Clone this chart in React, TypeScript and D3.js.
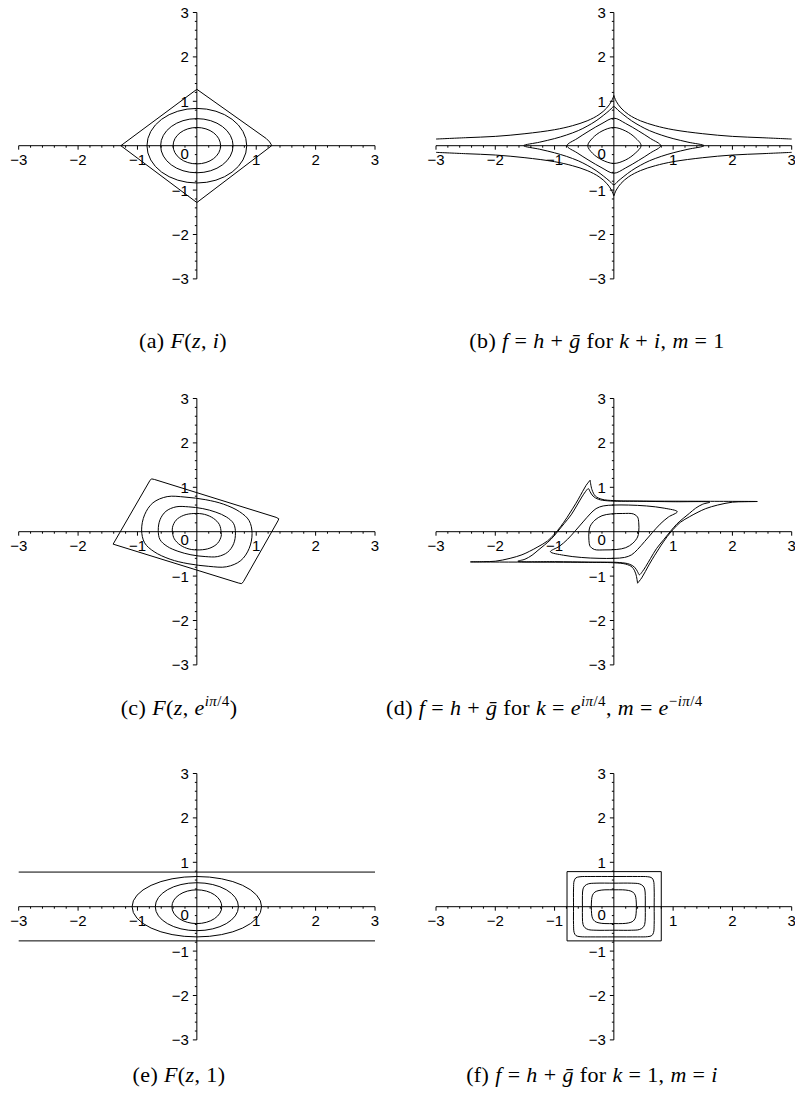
import React from 'react';
import * as d3 from 'd3';

type P = [number, number];

// ---------- axis data ----------
const DOMAIN: [number, number] = [-3, 3];
const MAJOR = [-3, -2, -1, 1, 2, 3];
const MAJOR_LABELS = ['−3', '−2', '−1', '1', '2', '3'];
const ORIGIN_LABEL = '0';
const MINOR_STEP = 0.2;

// ---------- (a) F(z,i) ----------
const A_DIAMOND: P[] = [[0, 1.27], [1.17, 0.16], [1.225, 0.085], [1.255, 0.02], [1.26, 0], [0, -1.28], [-1.28, 0]];
const A_OVALS: P[] = [[0.84, 0.84], [0.61, 0.61], [0.4, 0.41]];

// ---------- (b) k+i, m=1 ----------
const B1: P[] = [[0.46, 0], [0.36, 0.18], [0.2, 0.33], [0, 0.41], [-0.2, 0.33], [-0.36, 0.17], [-0.44, 0], [-0.36, -0.17], [-0.2, -0.32], [0, -0.4], [0.2, -0.32], [0.36, -0.17]];
const B2: P[] = [[0.79, 0], [0.62, 0.16], [0.42, 0.33], [0.2, 0.5], [0, 0.62], [-0.2, 0.5], [-0.42, 0.33], [-0.62, 0.16], [-0.79, 0], [-0.62, -0.16], [-0.42, -0.33], [-0.2, -0.5], [0, -0.62], [0.2, -0.5], [0.42, -0.33], [0.62, -0.16]];
const B3: P[] = [[1.52, 0], [1.25, 0.08], [1.0, 0.16], [0.8, 0.24], [0.6, 0.34], [0.45, 0.44], [0.3, 0.56], [0.17, 0.69], [0.07, 0.8], [0, 0.88], [-0.07, 0.8], [-0.17, 0.69], [-0.3, 0.56], [-0.45, 0.44], [-0.6, 0.34], [-0.8, 0.24], [-1.0, 0.16], [-1.25, 0.08], [-1.52, 0], [-1.25, -0.08], [-1.0, -0.16], [-0.8, -0.24], [-0.6, -0.34], [-0.45, -0.44], [-0.3, -0.56], [-0.17, -0.69], [-0.07, -0.8], [0, -0.88], [0.07, -0.8], [0.17, -0.69], [0.3, -0.56], [0.45, -0.44], [0.6, -0.34], [0.8, -0.24], [1.0, -0.16], [1.25, -0.08]];
const B4_UL: P[] = [[-3, 0.15], [-2.5, 0.18], [-2, 0.21], [-1.5, 0.27], [-1.0, 0.36], [-0.7, 0.45], [-0.45, 0.56], [-0.25, 0.7], [-0.12, 0.85], [-0.04, 1.0], [0, 1.13]];
const B4_UR: P[] = [[0, 1.13], [0.04, 1.0], [0.12, 0.85], [0.25, 0.7], [0.45, 0.56], [0.7, 0.45], [1.0, 0.36], [1.5, 0.27], [2.0, 0.21], [2.5, 0.18], [3, 0.15]];
const B4_LL: P[] = [[-3, -0.15], [-2.5, -0.18], [-2, -0.21], [-1.5, -0.27], [-1.0, -0.36], [-0.7, -0.45], [-0.45, -0.56], [-0.25, -0.7], [-0.12, -0.85], [-0.04, -1.0], [0, -1.13]];
const B4_LR: P[] = [[0, -1.13], [0.04, -1.0], [0.12, -0.85], [0.25, -0.7], [0.45, -0.56], [0.7, -0.45], [1.0, -0.36], [1.5, -0.27], [2.0, -0.21], [2.5, -0.18], [3, -0.15]];

// ---------- (c) F(z, e^{iπ/4}) ----------
const C_OUTER: P[] = [[-1.41, -0.28], [-0.794, 1.145], [-0.765, 1.19], [-0.715, 1.177], [1.335, 0.323], [1.38, 0.29], [1.366, 0.245], [0.784, -1.125], [0.755, -1.17], [0.705, -1.157]];
const C3: P[] = [[0.93, -0.04], [0.88, 0.25], [0.72, 0.45], [0.45, 0.62], [0.15, 0.72], [-0.2, 0.78], [-0.5, 0.79], [-0.74, 0.65], [-0.88, 0.38], [-0.93, 0.04], [-0.88, -0.25], [-0.72, -0.45], [-0.45, -0.62], [-0.15, -0.72], [0.2, -0.78], [0.5, -0.79], [0.74, -0.65], [0.88, -0.38]];
const C2: P[] = [[0.65, -0.03], [0.62, 0.18], [0.5, 0.33], [0.32, 0.44], [0.1, 0.52], [-0.14, 0.56], [-0.35, 0.56], [-0.52, 0.46], [-0.62, 0.27], [-0.65, 0.03], [-0.62, -0.18], [-0.5, -0.33], [-0.32, -0.44], [-0.1, -0.52], [0.14, -0.56], [0.35, -0.56], [0.52, -0.46], [0.62, -0.27]];
const C1: P[] = [[0.41, -0.02], [0.38, 0.16], [0.28, 0.3], [0.13, 0.39], [-0.05, 0.41], [-0.22, 0.37], [-0.35, 0.26], [-0.41, 0.1], [-0.41, -0.02], [-0.38, -0.16], [-0.28, -0.3], [-0.13, -0.39], [0.05, -0.41], [0.22, -0.37], [0.35, -0.26], [0.41, -0.1]];

// ---------- (d) k = e^{iπ/4}, m = e^{-iπ/4} ----------
const D1: P[] = [[0.42, 0], [0.42, 0.2], [0.4, 0.33], [0.33, 0.4], [0.15, 0.41], [-0.05, 0.4], [-0.2, 0.36], [-0.32, 0.26], [-0.4, 0.12], [-0.42, 0], [-0.42, -0.2], [-0.4, -0.33], [-0.33, -0.4], [-0.15, -0.41], [0.05, -0.4], [0.2, -0.36], [0.32, -0.26], [0.4, -0.12]];
const D2: P[] = [[1.07, 0.45], [0.85, 0.53], [0.55, 0.58], [0.25, 0.6], [0, 0.6], [-0.18, 0.58], [-0.3, 0.52], [-0.4, 0.4], [-0.52, 0.22], [-0.65, 0.02], [-0.78, -0.17], [-0.92, -0.33], [-1.07, -0.45], [-0.85, -0.53], [-0.55, -0.58], [-0.25, -0.6], [0, -0.6], [0.18, -0.58], [0.3, -0.52], [0.4, -0.4], [0.52, -0.22], [0.65, -0.02], [0.78, 0.17], [0.92, 0.33]];
const D3: P[] = [[1.62, 0.665], [1.5, 0.62], [1.38, 0.53], [1.28, 0.42], [1.17, 0.3], [1.06, 0.17], [0.95, 0], [0.84, -0.18], [0.72, -0.38], [0.62, -0.6], [0.54, -0.78], [0.48, -0.9], [0.43, -0.97], [0.4, -0.9], [0.35, -0.8], [0.26, -0.73], [0.1, -0.695], [-0.4, -0.685], [-1.0, -0.675], [-1.62, -0.665], [-1.5, -0.62], [-1.38, -0.53], [-1.28, -0.42], [-1.17, -0.3], [-1.06, -0.17], [-0.95, 0], [-0.84, 0.18], [-0.72, 0.38], [-0.62, 0.6], [-0.54, 0.78], [-0.48, 0.9], [-0.43, 0.97], [-0.4, 0.9], [-0.35, 0.8], [-0.26, 0.73], [-0.1, 0.695], [0.4, 0.685], [1.0, 0.675]];
const D4_A: P[] = [[-0.4, 1.16], [-0.37, 0.95], [-0.31, 0.8], [-0.2, 0.73], [0, 0.7], [0.5, 0.69], [1.5, 0.685], [2.42, 0.68], [2.2, 0.675], [2.0, 0.665], [1.75, 0.6], [1.55, 0.52], [1.42, 0.44], [1.28, 0.34], [1.12, 0.21], [1.0, 0.05], [0.9, -0.11], [0.79, -0.32], [0.69, -0.53], [0.6, -0.73], [0.53, -0.9], [0.47, -1.04], [0.4, -1.16]];
const D4_B: P[] = [[0.4, -1.16], [0.37, -0.95], [0.31, -0.8], [0.2, -0.73], [0, -0.7], [-0.5, -0.69], [-1.5, -0.685], [-2.42, -0.68], [-2.2, -0.675], [-2.0, -0.665], [-1.75, -0.6], [-1.55, -0.52], [-1.42, -0.44], [-1.28, -0.34], [-1.12, -0.21], [-1.0, -0.05], [-0.9, 0.11], [-0.79, 0.32], [-0.69, 0.53], [-0.6, 0.73], [-0.53, 0.9], [-0.47, 1.04], [-0.4, 1.16]];

// ---------- (e) F(z,1) ----------
const E_OVALS: P[] = [[1.09, 0.68], [0.7, 0.54], [0.42, 0.38]];
const E_TOP: P[] = [[-3, 0.78], [3, 0.78]];
const E_BOTTOM: P[] = [[-3, -0.77], [3, -0.77]];

// ---------- (f) k=1, m=i ----------
const F4: P[] = [[-0.79, 0.79], [0.8, 0.79], [0.8, -0.77], [-0.79, -0.77]];
const F3: P[] = [[0.68, 0], [0.68, 0.4], [0.67, 0.58], [0.64, 0.65], [0.57, 0.675], [0.4, 0.68], [0, 0.68], [-0.4, 0.68], [-0.57, 0.675], [-0.64, 0.65], [-0.67, 0.58], [-0.68, 0.4], [-0.68, 0], [-0.68, -0.4], [-0.67, -0.58], [-0.64, -0.65], [-0.57, -0.675], [-0.4, -0.68], [0, -0.68], [0.4, -0.68], [0.57, -0.675], [0.64, -0.65], [0.67, -0.58], [0.68, -0.4]];
const F2: P[] = [[0.53, 0], [0.53, 0.25], [0.52, 0.4], [0.49, 0.47], [0.43, 0.515], [0.3, 0.53], [0, 0.53], [-0.3, 0.53], [-0.43, 0.515], [-0.49, 0.47], [-0.52, 0.4], [-0.53, 0.25], [-0.53, 0], [-0.53, -0.25], [-0.52, -0.4], [-0.49, -0.47], [-0.43, -0.515], [-0.3, -0.53], [0, -0.53], [0.3, -0.53], [0.43, -0.515], [0.49, -0.47], [0.52, -0.4], [0.53, -0.25]];
const F1: P[] = [[0.38, 0], [0.375, 0.16], [0.36, 0.26], [0.32, 0.33], [0.25, 0.365], [0.15, 0.38], [0, 0.38], [-0.15, 0.38], [-0.25, 0.365], [-0.32, 0.33], [-0.36, 0.26], [-0.375, 0.16], [-0.38, 0], [-0.375, -0.16], [-0.36, -0.26], [-0.32, -0.33], [-0.25, -0.365], [-0.15, -0.38], [0, -0.38], [0.15, -0.38], [0.25, -0.365], [0.32, -0.33], [0.36, -0.26], [0.375, -0.16]];

// ---------- captions ----------
type Seg = { t: string; i?: boolean; s?: boolean };
const CAP_A: Seg[] = [{ t: '(a) ' }, { t: 'F', i: true }, { t: '(' }, { t: 'z', i: true }, { t: ', ' }, { t: 'i', i: true }, { t: ')' }];
const CAP_B: Seg[] = [{ t: '(b) ' }, { t: 'f', i: true }, { t: ' = ' }, { t: 'h', i: true }, { t: ' + ' }, { t: 'ḡ', i: true }, { t: ' for ' }, { t: 'k', i: true }, { t: ' + ' }, { t: 'i', i: true }, { t: ', ' }, { t: 'm', i: true }, { t: ' = 1' }];
const CAP_C: Seg[] = [{ t: '(c) ' }, { t: 'F', i: true }, { t: '(' }, { t: 'z', i: true }, { t: ', ' }, { t: 'e', i: true }, { t: 'iπ', i: true, s: true }, { t: '/4', s: true }, { t: ')' }];
const CAP_D: Seg[] = [{ t: '(d) ' }, { t: 'f', i: true }, { t: ' = ' }, { t: 'h', i: true }, { t: ' + ' }, { t: 'ḡ', i: true }, { t: ' for ' }, { t: 'k', i: true }, { t: ' = ' }, { t: 'e', i: true }, { t: 'iπ', i: true, s: true }, { t: '/4', s: true }, { t: ', ' }, { t: 'm', i: true }, { t: ' = ' }, { t: 'e', i: true }, { t: '−', s: true }, { t: 'iπ', i: true, s: true }, { t: '/4', s: true }];
const CAP_E: Seg[] = [{ t: '(e) ' }, { t: 'F', i: true }, { t: '(' }, { t: 'z', i: true }, { t: ', 1)' }];
const CAP_F: Seg[] = [{ t: '(f) ' }, { t: 'f', i: true }, { t: ' = ' }, { t: 'h', i: true }, { t: ' + ' }, { t: 'ḡ', i: true }, { t: ' for ' }, { t: 'k', i: true }, { t: ' = 1, ' }, { t: 'm', i: true }, { t: ' = ' }, { t: 'i', i: true }];

// ---------- layout ----------
const W = 795;
const H = 1103;
const COL_X: [number, number][] = [[18.7, 375], [436, 791.7]];
const ROW_Y0 = [145.7, 531.7, 906.7];
const Y_HALF = 133.2;
const CAP_Y = [348, 715, 1082];
const CAP_SIZE = 22;
const SUP_SIZE = 15;

type Spec = {
  col: number; row: number; capX: number; capAnchor: 'middle' | 'start'; caption: Seg[];
  smoothClosed?: P[][]; linearClosed?: P[][]; smoothOpen?: P[][]; lines?: P[][]; ellipses?: P[];
};

const SPECS: Spec[] = [
  { col: 0, row: 0, capX: 183, capAnchor: 'middle', caption: CAP_A, linearClosed: [A_DIAMOND], ellipses: A_OVALS },
  { col: 1, row: 0, capX: 597, capAnchor: 'middle', caption: CAP_B, smoothClosed: [B1, B2, B3], smoothOpen: [B4_UL, B4_UR, B4_LL, B4_LR] },
  { col: 0, row: 1, capX: 179, capAnchor: 'middle', caption: CAP_C, linearClosed: [C_OUTER], smoothClosed: [C1, C2, C3] },
  { col: 1, row: 1, capX: 386, capAnchor: 'start', caption: CAP_D, smoothClosed: [D1, D2, D3], smoothOpen: [D4_A, D4_B] },
  { col: 0, row: 2, capX: 179, capAnchor: 'middle', caption: CAP_E, lines: [E_TOP, E_BOTTOM], ellipses: E_OVALS },
  { col: 1, row: 2, capX: 592, capAnchor: 'middle', caption: CAP_F, linearClosed: [F4], smoothClosed: [F1, F2, F3] },
];

const LABEL_FONT = '"Liberation Sans", Arial, Helvetica, sans-serif';
const CAP_FONT = '"Liberation Serif", "Times New Roman", serif';

function Caption({ segs, x, y, anchor }: { segs: Seg[]; x: number; y: number; anchor: 'middle' | 'start' }) {
  let inSup = false;
  const parts = segs.map((s, k) => {
    let dy: number | undefined;
    if (s.s && !inSup) { dy = -9; inSup = true; }
    else if (!s.s && inSup) { dy = 9; inSup = false; }
    return (
      <tspan key={k} dy={dy} fontStyle={s.i ? 'italic' : 'normal'} fontSize={s.s ? SUP_SIZE : CAP_SIZE}>{s.t}</tspan>
    );
  });
  return (
    <text x={x} y={y} textAnchor={anchor} fontFamily={CAP_FONT} fontSize={CAP_SIZE} fill="#000"
      letterSpacing={0.4}>{parts}</text>
  );
}

function Panel({ spec }: { spec: Spec }) {
  const xs = d3.scaleLinear().domain(DOMAIN).range(COL_X[spec.col]);
  const yc = ROW_Y0[spec.row];
  const ys = d3.scaleLinear().domain(DOMAIN).range([yc + Y_HALF, yc - Y_HALF]);
  const X0 = xs(0);
  const Y0 = ys(0);
  const minor = d3.range(DOMAIN[0], DOMAIN[1] + 1e-9, MINOR_STEP).filter(v => Math.abs(v - Math.round(v)) > 1e-6);

  const lineLin = d3.line<P>().x(d => xs(d[0])).y(d => ys(d[1]));
  const closedLin = d3.line<P>().x(d => xs(d[0])).y(d => ys(d[1])).curve(d3.curveLinearClosed);
  const closedSmooth = d3.line<P>().x(d => xs(d[0])).y(d => ys(d[1])).curve(d3.curveCatmullRomClosed.alpha(0.5));
  const openSmooth = d3.line<P>().x(d => xs(d[0])).y(d => ys(d[1])).curve(d3.curveCatmullRom.alpha(0.5));

  const stroke = { fill: 'none', stroke: '#000', strokeWidth: 1 };

  return (
    <g>
      {/* axes */}
      <line x1={xs(-3)} x2={xs(3)} y1={Y0} y2={Y0} stroke="#000" strokeWidth={1} />
      <line x1={X0} x2={X0} y1={ys(-3)} y2={ys(3)} stroke="#000" strokeWidth={1} />
      {minor.map((v, k) => (
        <g key={'m' + k}>
          <line x1={xs(v)} x2={xs(v)} y1={Y0} y2={Y0 + 2} stroke="#000" strokeWidth={1} />
          <line x1={X0 - 2} x2={X0} y1={ys(v)} y2={ys(v)} stroke="#000" strokeWidth={1} />
        </g>
      ))}
      {MAJOR.map((v, k) => (
        <g key={'M' + k}>
          <line x1={xs(v)} x2={xs(v)} y1={Y0} y2={Y0 + 4} stroke="#000" strokeWidth={1} />
          <line x1={X0 - 4} x2={X0} y1={ys(v)} y2={ys(v)} stroke="#000" strokeWidth={1} />
          <text x={xs(v)} y={Y0 + 19} textAnchor="middle" fontFamily={LABEL_FONT} fontSize={15} fill="#000">{MAJOR_LABELS[k]}</text>
          <text x={X0 - 8} y={ys(v) + 5.5} textAnchor="end" fontFamily={LABEL_FONT} fontSize={15} fill="#000">{MAJOR_LABELS[k]}</text>
        </g>
      ))}
      <text x={X0 - 8} y={Y0 + 13} textAnchor="end" fontFamily={LABEL_FONT} fontSize={15} fill="#000">{ORIGIN_LABEL}</text>

      {/* curves */}
      {(spec.ellipses || []).map(([a, b], k) => (
        <ellipse key={'e' + k} cx={X0} cy={Y0} rx={xs(a) - X0} ry={Y0 - ys(b)} {...stroke} />
      ))}
      {(spec.lines || []).map((pts, k) => <path key={'l' + k} d={lineLin(pts) || ''} {...stroke} />)}
      {(spec.linearClosed || []).map((pts, k) => <path key={'lc' + k} d={closedLin(pts) || ''} {...stroke} />)}
      {(spec.smoothClosed || []).map((pts, k) => <path key={'sc' + k} d={closedSmooth(pts) || ''} {...stroke} />)}
      {(spec.smoothOpen || []).map((pts, k) => <path key={'so' + k} d={openSmooth(pts) || ''} {...stroke} />)}

      <Caption segs={spec.caption} x={spec.capX} y={CAP_Y[spec.row]} anchor={spec.capAnchor} />
    </g>
  );
}

export default function App() {
  return (
    <svg width={W} height={H} viewBox={`0 0 ${W} ${H}`}
      style={{ position: 'absolute', left: 0, top: 0, display: 'block', background: '#fff' }}>
      <rect x={0} y={0} width={W} height={H} fill="#fff" />
      {SPECS.map((s, k) => <Panel key={k} spec={s} />)}
    </svg>
  );
}
